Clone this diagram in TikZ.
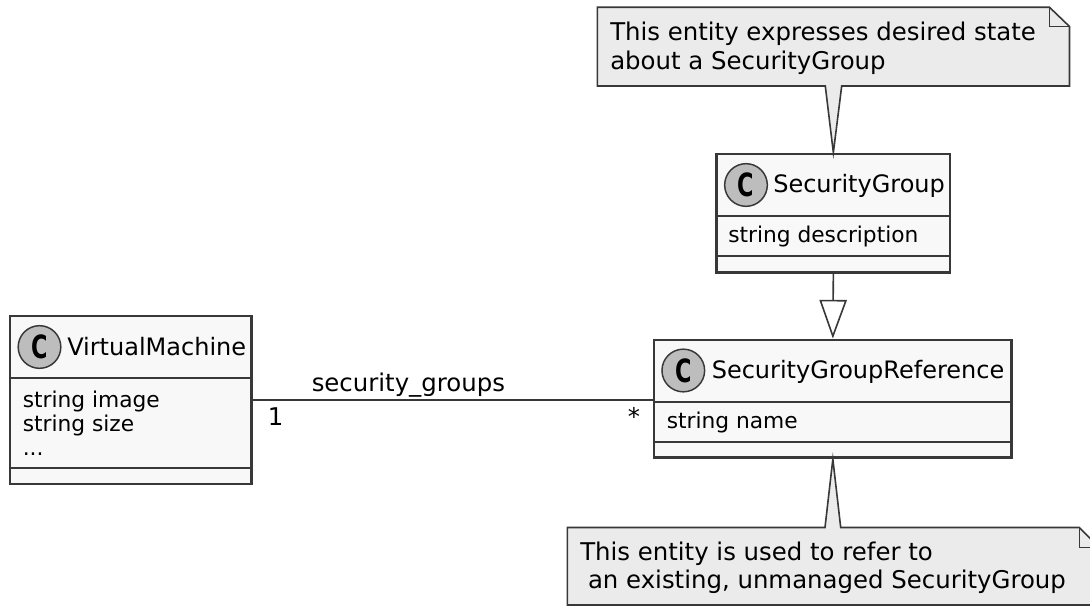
\documentclass[tikz,border=0pt]{standalone}
\usepackage{fontspec}
\setmainfont{DejaVu Sans}
\usepackage{graphicx}
\usetikzlibrary{fit,arrows.meta}
\definecolor{classfill}{HTML}{F8F8F8}
\definecolor{lineclr}{HTML}{383838}
\definecolor{notefill}{HTML}{EBEBEB}
\definecolor{circfill}{HTML}{BDBDBD}
\newcommand{\namefont}{\fontsize{18}{22}\selectfont}
\newcommand{\notefont}{\fontsize{18.3}{22}\selectfont}
\newcommand{\attrfont}{\fontsize{16.3}{20}\selectfont}
\newcommand{\cfont}{\fontsize{24}{26}\selectfont\bfseries}
\begin{document}
\begin{tikzpicture}[x=0.75pt,y=-0.75pt,
  classbox/.style={draw=lineclr, line width=2.2pt, fill=classfill, inner sep=0pt},
  divider/.style={draw=lineclr, line width=1.7pt},
  icon/.style={circle, draw=lineclr, line width=1.1pt, fill=circfill, minimum size=32pt, inner sep=0pt},
  iconletter/.style={inner sep=0pt, text=black},
  txt/.style={anchor=base west, inner sep=0pt, text=black},
  notebox/.style={draw=lineclr, line width=1.2pt, fill=notefill, line join=miter},
  notefold/.style={draw=lineclr, line width=1.2pt},
  assoc/.style={draw=lineclr, line width=1.2pt},
  inherit/.style={draw=lineclr, line width=1.2pt, -{Triangle[open, length=29pt, width=20.5pt, line width=1.2pt]}}
]
\useasboundingbox (0,0) rectangle (1090,606);
\fill[white] (0,0) rectangle (1090,606);

% ---------- classes ----------
\node[classbox, fit={(10,316) (251.5,484)}] (vm) {};
\draw[divider] (vm.west |- 0,378) -- (vm.east |- 0,378);
\draw[divider] (vm.west |- 0,468) -- (vm.east |- 0,468);
\node[icon] (vmicon) at (39.5,347) {};
\node[iconletter] (vmc) at (vmicon) {\cfont\scalebox{0.7}[1]{C}};
\node[txt] (vmname) at (67,355) {\namefont VirtualMachine};
\node[txt] (vma1) at (22.5,407) {\attrfont string image};
\node[txt] (vma2) at (22.5,431) {\attrfont string size};
\node[txt] (vma3) at (22.5,455) {\attrfont ...};

\node[classbox, fit={(716.7,154) (950,272.3)}] (sg) {};
\draw[divider] (sg.west |- 0,216) -- (sg.east |- 0,216);
\draw[divider] (sg.west |- 0,256) -- (sg.east |- 0,256);
\node[icon] (sgicon) at (746,185) {};
\node[iconletter] (sgc) at (sgicon) {\cfont\scalebox{0.7}[1]{C}};
\node[txt] (sgname) at (773,193) {\namefont SecurityGroup};
\node[txt] (sga1) at (728,243) {\attrfont string description};

\node[classbox, fit={(654,340) (1011.7,457.7)}] (sgr) {};
\draw[divider] (sgr.west |- 0,402.3) -- (sgr.east |- 0,402.3);
\draw[divider] (sgr.west |- 0,442.3) -- (sgr.east |- 0,442.3);
\node[icon] (sgricon) at (683.3,370.5) {};
\node[iconletter] (sgrc) at (sgricon) {\cfont\scalebox{0.7}[1]{C}};
\node[txt] (sgrname) at (711.5,378.5) {\namefont SecurityGroupReference};
\node[txt] (sgra1) at (666.5,428) {\attrfont string name};

% ---------- connectors ----------
\draw[assoc] (vm.east) -- (vm.east -| sgr.west);
\node[txt] (assoclabel) at (311.5,392) {\notefont security\_groups};
\node[txt] (mult1) at (267.5,425) {\notefont 1};
\node[txt] (multstar) at (627.5,425) {\notefont *};

\draw[inherit] (sg.south) -- (sgr.north);

% ---------- notes ----------
\draw[notebox] (597.3,7.3) -- (1049.5,7.3) -- (1069.5,26.5) -- (1069.5,86) -- (841.7,86)
  -- (sg.north) -- (825.3,86) -- (597.3,86) -- cycle;
\draw[notefold] (1049.5,7.3) -- (1049.5,26.5) -- (1069.5,26.5);
\node[txt] (note1a) at (610,41) {\notefont This entity expresses desired state};
\node[txt] (note1b) at (610,70) {\notefont about a SecurityGroup};

\draw[notebox] (567.3,527.5) -- (825,527.5) -- (sgr.south) -- (840.7,527.5) -- (1079.3,527.5)
  -- (1099.3,547.5) -- (1099.3,605) -- (567.3,605) -- cycle;
\draw[notefold] (1079.3,527.5) -- (1079.3,547.5) -- (1099.3,547.5);
\node[txt] (note2a) at (580,560) {\notefont This entity is used to refer to};
\node[txt] (note2b) at (580,588.5) {\notefont \ an existing, unmanaged SecurityGroup};
\end{tikzpicture}
\end{document}
